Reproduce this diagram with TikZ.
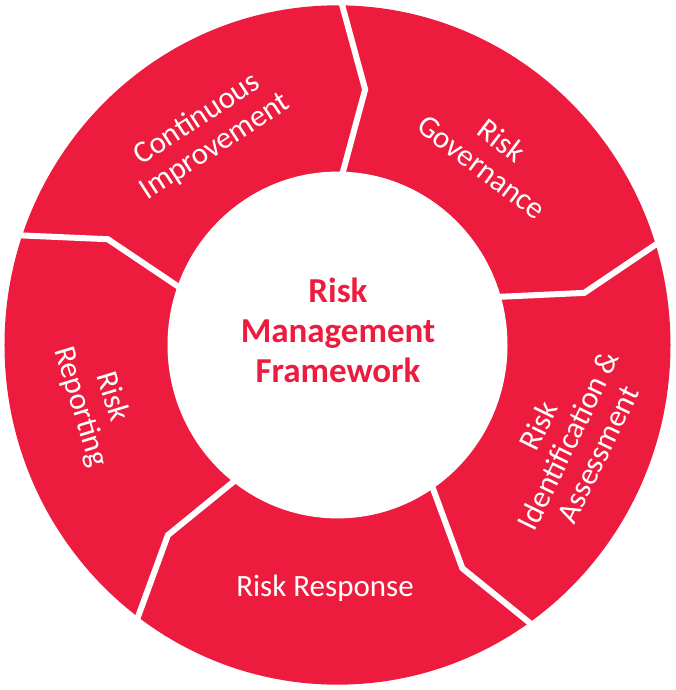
\documentclass[tikz,border=0pt]{standalone}
\usepackage{fontspec}
\setmainfont{Carlito}
\definecolor{riskred}{RGB}{237,28,62}
\tikzset{
  ringlabel/.style={text=white, font=\fontsize{31}{33}\selectfont, align=center, inner sep=0pt},
  titlelabel/.style={text=riskred, font=\bfseries\fontsize{35}{40}\selectfont, align=center, inner sep=0pt},
  separator/.style={draw=white, line width=6pt, line join=miter, line cap=butt}
}
\begin{document}
\begin{tikzpicture}[x=1pt,y=1.02pt]
\useasboundingbox (-337.5,-338.235) rectangle (337.5,338.235);
% ring
\fill[riskred] (0,0) circle [radius=333];
% separators (chevrons)
\foreach \a in {90,18,-54,-126,162}{
  \draw[separator] (\a:350) -- (\a-6.3:252) -- (\a:150);
}
% centre disc
\fill[white] (0,0) circle [radius=170];
% labels
\node[titlelabel] (rmf) at (0.5,14.7) {Risk\\Management\\Framework};
\node[ringlabel, rotate=33] (ci) at (122.3:246) {Continuous\\Improvement};
\node[ringlabel, rotate=-37] (rg) at (50.5:243) {Risk\\Governance};
\node[ringlabel, rotate=64] (ria) at (-22:248.6) {Risk\\Identification \&\\Assessment};
\node[ringlabel, anchor=base] (rresp) at (-12.5,-247) {Risk Response};
\node[ringlabel, rotate=-73] (rrep) at (193:248) {Risk\\Reporting};
\end{tikzpicture}
\end{document}
